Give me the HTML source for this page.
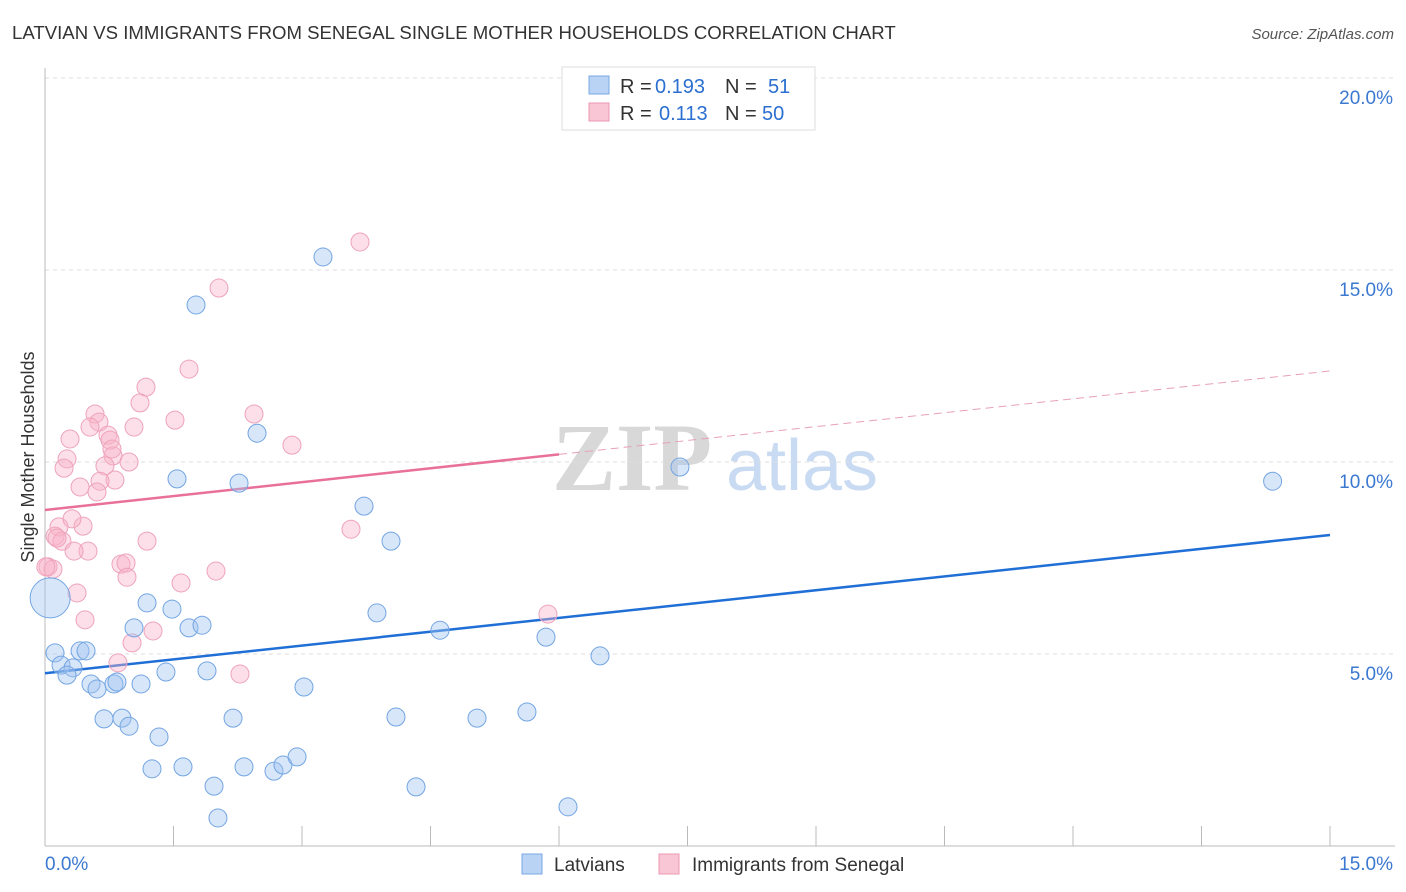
<!DOCTYPE html>
<html><head><meta charset="utf-8"><style>
body{margin:0;background:#fff;font-family:"Liberation Sans",sans-serif;}
svg{display:block}
</style></head><body>
<svg id="c" width="1406" height="892" xmlns="http://www.w3.org/2000/svg">
<text x="12" y="39" font-size="18.6" fill="#333">LATVIAN VS IMMIGRANTS FROM SENEGAL SINGLE MOTHER HOUSEHOLDS CORRELATION CHART</text>
<text x="1394" y="39" font-size="15" fill="#555" text-anchor="end" font-style="italic">Source: ZipAtlas.com</text>
<text transform="translate(34,457) rotate(-90)" font-size="18" fill="#333" text-anchor="middle">Single Mother Households</text>
<g>
<text x="632" y="490" font-size="96" fill="#d8d8d8" font-family="Liberation Serif" text-anchor="middle" font-weight="bold">ZIP</text>
<text x="802" y="490" font-size="72" fill="#c9dbf2" text-anchor="middle">atlas</text>
</g>
<g id="grid"></g><g id="axes"></g><g id="trend"></g><g id="pts"></g>
<g font-size="20">
<rect x="562" y="67" width="253" height="63" fill="#fff" stroke="#ddd"/>
<rect x="589" y="76" width="20" height="18" fill="#b9d3f4" stroke="#7aa8e4"/>
<rect x="589" y="103" width="20" height="18" fill="#f9c6d5" stroke="#ec98b2"/>
<text x="620" y="93" fill="#333">R =</text><text x="655" y="93" fill="#2b6fd1">0.193</text>
<text x="725" y="93" fill="#333">N =</text><text x="768" y="93" fill="#2b6fd1">51</text>
<text x="620" y="120" fill="#333">R =</text><text x="659" y="120" fill="#2b6fd1">0.113</text>
<text x="725" y="120" fill="#333">N =</text><text x="762" y="120" fill="#2b6fd1">50</text>
</g>
<g>
<rect x="522" y="854" width="20" height="20" fill="#b9d3f4" stroke="#7aa8e4"/>
<text x="554" y="871" font-size="19" fill="#333">Latvians</text>
<rect x="659" y="854" width="20" height="20" fill="#f9c6d5" stroke="#ec98b2"/>
<text x="692" y="871" font-size="19" fill="#333">Immigrants from Senegal</text>
</g>
</svg>
<script>
const yTicks=[5,10,15,20];
const yTickLabels=["5.0%","10.0%","15.0%","20.0%"];
const xTickLabels=["0.0%","15.0%"];
const blueX=[3.245,1.763,2.475,1.541,2.265,7.412,14.33,3.724,4.039,1.191,1.482,3.875,1.039,1.681,1.833,4.611,5.848,6.479,0.117,0.187,0.327,0.257,0.409,0.479,1.412,1.891,0.537,0.607,0.805,0.840,1.121,3.023,0.689,0.899,0.981,2.195,4.097,5.043,5.626,1.331,1.249,1.611,2.323,2.673,2.778,2.942,1.973,4.331,2.019,6.105,0.06];
const blueY=[15.34,14.09,10.75,9.56,9.45,9.87,9.50,8.85,7.94,6.33,6.17,6.07,5.68,5.68,5.75,5.62,5.44,4.95,5.03,4.71,4.64,4.45,5.08,5.08,4.53,4.56,4.22,4.09,4.22,4.27,4.22,4.14,3.31,3.33,3.12,3.33,3.36,3.33,3.49,2.84,2.01,2.06,2.06,1.95,2.11,2.32,1.56,1.54,0.73,1.02,6.46];
const pinkX=[3.677,2.031,1.681,1.179,1.109,0.584,2.440,1.517,0.630,0.525,1.039,0.735,0.292,0.759,2.883,0.794,0.257,0.981,0.700,0.222,0.817,0.642,0.409,0.607,0.163,0.444,0.315,0.117,0.198,0.140,0.502,0.339,3.572,1.191,0.887,0.946,0.957,0.035,0.093,1.588,1.996,0.374,0.467,1.261,1.016,0.852,2.276,5.871,0.01,0.782];
const pinkY=[15.73,14.53,12.42,11.95,11.54,11.25,11.25,11.09,11.04,10.91,10.91,10.70,10.60,10.57,10.44,10.16,10.08,10.00,9.90,9.84,9.53,9.50,9.35,9.22,8.31,8.33,8.52,8.07,7.94,8.02,7.68,7.68,8.25,7.94,7.34,7.37,7.00,7.27,7.21,6.85,7.16,6.59,5.89,5.60,5.29,4.77,4.48,6.04,7.27,10.34];
const blueTrend=[4.50,8.10];
const pinkTrend=[8.75,12.37];
const NS="http://www.w3.org/2000/svg";
const X0=45,X1=1330,Y0=846;
const sx=v=>X0+(v/15)*(X1-X0);
const sy=v=>Y0-(v/5)*192;
function mk(t,a,p){const e=document.createElementNS(NS,t);for(const k in a)e.setAttribute(k,a[k]);p.appendChild(e);return e;}
const grid=document.getElementById('grid'),axes=document.getElementById('axes'),trend=document.getElementById('trend'),pts=document.getElementById('pts');
yTicks.forEach((t,i)=>{
 const l=mk('line',{x1:X0,x2:1395,y1:sy(t),y2:sy(t),stroke:'#ddd','stroke-dasharray':'4,4'},grid);
 
 
 const tx=mk('text',{x:1393,y:sy(t)+26,'font-size':19,fill:'#3b78d0','text-anchor':'end'},axes);
 tx.textContent=yTickLabels[i];
 
 
});
let a=mk('line',{x1:X0,x2:X0,y1:68,y2:Y0,stroke:'#bbb'},axes);

a=mk('line',{x1:X0,x2:1395,y1:Y0,y2:Y0,stroke:'#bbb'},axes);

for(let i=1;i<=10;i++){const x=sx(i*1.5);const t=mk('line',{x1:x,x2:x,y1:826,y2:Y0,stroke:'#bbb'},axes);
 }
let xl=mk('text',{x:45,y:870,'font-size':19,fill:'#3b78d0'},axes);xl.textContent=xTickLabels[0];

xl=mk('text',{x:1393,y:870,'font-size':19,fill:'#3b78d0','text-anchor':'end'},axes);xl.textContent=xTickLabels[1];

let tl=mk('line',{x1:sx(0),y1:sy(blueTrend[0]),x2:sx(15),y2:sy(blueTrend[1]),stroke:'#1f6fd6','stroke-width':2.5},trend);

const pAt=x=>pinkTrend[0]+(pinkTrend[1]-pinkTrend[0])*x/15;
tl=mk('line',{x1:sx(0),y1:sy(pAt(0)),x2:sx(6),y2:sy(pAt(6)),stroke:'#e8709a','stroke-width':2.5},trend);

tl=mk('line',{x1:sx(6),y1:sy(pAt(6)),x2:sx(15),y2:sy(pAt(15)),stroke:'#e8a0b8','stroke-width':1,'stroke-dasharray':'8,5'},trend);

pinkX.forEach((x,i)=>{const c=mk('circle',{cx:sx(x),cy:sy(pinkY[i]),r:9,fill:'rgba(247,178,199,0.42)',stroke:'#eea3bb','stroke-width':1},pts);
 });
blueX.forEach((x,i)=>{const c=mk('circle',{cx:sx(x),cy:sy(blueY[i]),r:i==blueX.length-1?20:9,fill:'rgba(160,196,240,0.42)',stroke:'#74a5e2','stroke-width':1},pts);
 });
</script>
</body></html>
